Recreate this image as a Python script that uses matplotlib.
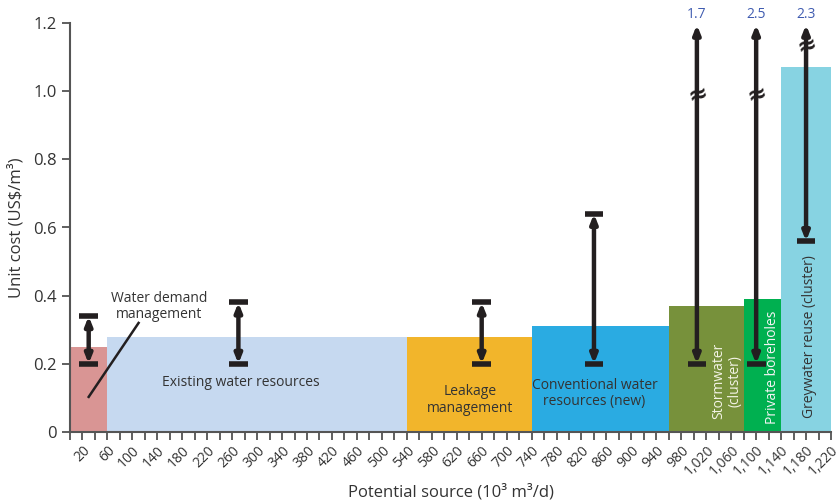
import numpy as np
import matplotlib
matplotlib.use("Agg")
import matplotlib.pyplot as plt

plt.rcParams['font.family'] = ['Open Sans', 'DejaVu Sans']

# cost curve segments (width in 10^3 m3/d, unit cost US$/m3)
names = ["Water demand\nmanagement", "Existing water resources", "Leakage\nmanagement",
         "Conventional water\nresources (new)", "Stormwater\n(cluster)", "Private boreholes",
         "Greywater reuse (cluster)"]
widths = [60, 480, 200, 220, 120, 60, 80]
costs = [0.25, 0.28, 0.28, 0.31, 0.37, 0.39, 1.07]
colors = ["#d99594", "#c6d9f0", "#f2b52b", "#2aabe2", "#77913b", "#00b050", "#87d3e2"]

# cost ranges
range_x = [30, 270, 660, 840, 1005, 1100, 1180]
range_low = [0.2, 0.2, 0.2, 0.2, 0.2, 0.2, 0.56]
range_high = [0.34, 0.38, 0.38, 0.64, 1.7, 2.5, 2.3]
break_y = [None, None, None, None, 0.99, 0.99, 1.135]

xtick_vals = np.arange(0, 1221, 20)

ymax = 1.2
dark = "#231f20"

fig = plt.figure(figsize=(8.4, 5.0), dpi=100)
ax = fig.add_axes([0.0833, 0.136, 0.906, 0.818])

lefts = np.concatenate([[0], np.cumsum(widths)[:-1]])
ax.bar(lefts, costs, width=widths, align='edge', color=colors, edgecolor='none', zorder=1)

capw = 15
for x, lo, hi, br in zip(range_x, range_low, range_high, break_y):
    top = min(hi, 1.195)
    ax.annotate('', xy=(x, top), xytext=(x, lo),
                arrowprops=dict(arrowstyle='<|-|>,head_length=0.5,head_width=0.2', lw=3.2,
                                color=dark, shrinkA=0, shrinkB=0), zorder=5)
    ax.plot([x - capw, x + capw], [lo, lo], color=dark, lw=4, solid_capstyle='butt', zorder=5)
    if hi <= ymax:
        ax.plot([x - capw, x + capw], [hi, hi], color=dark, lw=4, solid_capstyle='butt', zorder=5)
    else:
        ax.text(x, 1.203, f"{hi}", ha='center', va='bottom', color="#3f5bb0", fontsize=10,
                clip_on=False)
    if br is not None:
        ax.text(x + 1, br, "≈", ha='center', va='center', fontsize=17, fontweight='bold',
                color=dark, rotation=15, zorder=6, family=['DejaVu Sans'])

# labels
ax.text(143, 0.367, names[0], ha='center', va='center', fontsize=10, color="#333333",
        linespacing=1.1)
ax.plot([30, 110], [0.103, 0.32], color=dark, lw=1.8, zorder=4)
ax.text(274, 0.144, names[1], ha='center', va='center', fontsize=10, color="#333333")
ax.text(641, 0.094, names[2], ha='center', va='center', fontsize=10, color="#333333",
        linespacing=1.1)
ax.text(841, 0.114, names[3], ha='center', va='center', fontsize=10, color="#333333",
        linespacing=1.1)
ax.text(1053, 0.15, names[4], ha='center', va='center', fontsize=10, color="#f4f4e6",
        rotation=90, linespacing=1.1)
ax.text(1126, 0.19, names[5], ha='center', va='center', fontsize=10, color="#f4f4f4",
        rotation=90)
ax.text(1186, 0.28, names[6], ha='center', va='center', fontsize=10, color="#333333",
        rotation=90)

ax.set_xlim(0, 1220)
ax.set_ylim(0, ymax)
ax.set_yticks(np.arange(0, 1.21, 0.2))
ax.set_yticklabels(["0", "0.2", "0.4", "0.6", "0.8", "1.0", "1.2"])
ax.set_xticks(xtick_vals)
ax.set_xticklabels([f"{v:,}" if v % 40 == 20 else "" for v in xtick_vals],
                   rotation=45, ha='right', va='top', rotation_mode='anchor')
ax.tick_params(axis='both', colors="#444444", labelsize=12, length=6, width=1.2, labelcolor="#333333")
ax.tick_params(axis='x', labelsize=10, pad=2)

for s in ['top', 'right']:
    ax.spines[s].set_visible(False)
for s in ['left', 'bottom']:
    ax.spines[s].set_color("#555555")
    ax.spines[s].set_linewidth(1.5)

ax.set_ylabel("Unit cost (US\\$/m³)", fontsize=12, color="#333333", labelpad=6)
ax.set_xlabel("Potential source (10³ m³/d)", fontsize=12, color="#333333", labelpad=4)

fig.savefig("out.png", dpi=100)
